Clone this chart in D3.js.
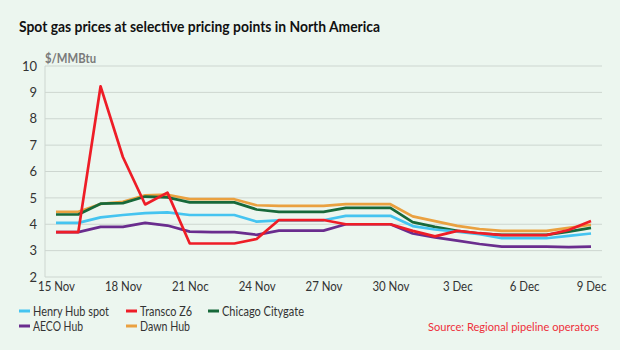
<!DOCTYPE html>
<html>
<head>
<meta charset="utf-8">
<script src="https://cdn.jsdelivr.net/npm/d3@7"></script>
<style>
  html, body { margin: 0; padding: 0; background: #ecf6ef; }
  svg { display: block; font-family: Lato, "Open Sans", sans-serif; }
</style>
</head>
<body>
<svg id="chart" width="620" height="350"></svg>
<script>
// ---- Data ----
const startDate = "2020-11-15";
const dayCount = 25; // 15 Nov .. 9 Dec
const henryHub = [4.05,4.05,4.26,4.35,4.42,4.45,4.35,4.35,4.35,4.10,4.15,4.15,4.15,4.32,4.32,4.32,3.93,3.80,3.72,3.62,3.47,3.47,3.47,3.56,3.65];
const transcoZ6 = [3.70,3.70,9.23,6.55,4.75,5.20,3.27,3.27,3.27,3.44,4.16,4.16,4.16,4.00,4.00,4.00,3.75,3.54,3.75,3.66,3.59,3.59,3.59,3.78,4.12];
const chicagoCitygate = [4.37,4.37,4.78,4.80,5.05,5.02,4.83,4.83,4.83,4.56,4.47,4.47,4.47,4.62,4.62,4.62,4.08,3.90,3.75,3.65,3.60,3.60,3.60,3.72,3.86];
const aecoHub = [3.70,3.70,3.90,3.90,4.05,3.95,3.72,3.70,3.70,3.60,3.76,3.76,3.76,4.00,4.00,4.00,3.65,3.50,3.38,3.25,3.15,3.15,3.15,3.13,3.15];
const dawnHub = [4.47,4.47,4.77,4.85,5.10,5.12,4.95,4.95,4.95,4.72,4.70,4.70,4.70,4.76,4.76,4.76,4.30,4.12,3.94,3.82,3.75,3.75,3.75,3.86,3.98];
const seriesNames = ["Henry Hub spot","Transco Z6","Chicago Citygate","AECO Hub","Dawn Hub"];
const seriesColors = ["#45c4f0","#ee1d27","#17693a","#6a2d8e","#eaa140"];
const yTicks = [2,3,4,5,6,7,8,9,10];
const xTickLabels = ["15 Nov","18 Nov","21 Noc","24 Nov","27 Nov","30 Nov","3 Dec","6 Dec","9 Dec"];
const xTickEvery = 3;

// ---- Build ----
const parse = d3.utcParse("%Y-%m-%d");
const d0 = parse(startDate);
const dates = d3.range(dayCount).map(i => d3.utcDay.offset(d0, i));
const allSeries = [henryHub, transcoZ6, chicagoCitygate, aecoHub, dawnHub];

const svg = d3.select("#chart");
const x = d3.scaleUtc().domain([dates[0], dates[dates.length-1]]).range([56, 591]);
const y = d3.scaleLinear().domain([2, 10]).range([277, 66]);
const gridLeft = 45, gridRight = 602;

// condense text to the narrower width of the original typeface
function squeeze(sel, target) {
  const w = sel.node().getComputedTextLength();
  if (w > target) sel.attr("textLength", target).attr("lengthAdjust", "spacingAndGlyphs");
}
function fitSize(sel, target) {
  const w = sel.node().getComputedTextLength();
  const fs = parseFloat(sel.attr("font-size"));
  sel.attr("font-size", (fs * target / w).toFixed(2));
}

// gridlines
svg.append("g").selectAll("line").data(yTicks).join("line")
  .attr("x1", gridLeft).attr("x2", gridRight)
  .attr("y1", d => y(d)).attr("y2", d => y(d))
  .attr("stroke", "#cdd6d0").attr("stroke-width", 1);
svg.append("line").attr("x1", gridLeft).attr("x2", gridLeft)
  .attr("y1", y(10)).attr("y2", y(2)).attr("stroke", "#cdd6d0");

// y axis
const yAxis = d3.axisLeft(y).tickValues(yTicks).tickSize(0).tickPadding(0);
const yg = svg.append("g").attr("transform", "translate(37,0)").call(yAxis);
yg.select(".domain").remove();
yg.selectAll("text").attr("font-size", 13).attr("fill", "#333").attr("font-family", "Lato, sans-serif");

// x axis
const tickDates = dates.filter((d, i) => i % xTickEvery === 0);
const xAxis = d3.axisBottom(x).tickValues(tickDates).tickSize(0).tickPadding(0)
  .tickFormat((d, i) => xTickLabels[i]);
const xg = svg.append("g").attr("transform", "translate(0,282)").call(xAxis);
xg.select(".domain").remove();
xg.selectAll("text").attr("font-size", 13).attr("fill", "#333").attr("font-family", "Lato, sans-serif")
  .each(function() { const s = d3.select(this); squeeze(s, this.getComputedTextLength() * 0.88); });

// lines
const line = d3.line().x((d, i) => x(dates[i])).y(d => y(d));
const drawOrder = [4, 3, 2, 0, 1];
drawOrder.forEach(k => {
  svg.append("path").datum(allSeries[k])
    .attr("fill", "none").attr("stroke", seriesColors[k])
    .attr("stroke-width", 2.7).attr("stroke-linejoin", "round")
    .attr("d", line);
});

// title
const title = svg.append("text").attr("x", 19).attr("y", 32)
  .attr("font-size", 15.5).attr("font-weight", "bold").attr("fill", "#111")
  .text("Spot gas prices at selective pricing points in North America");
squeeze(title, 361);

const unit = svg.append("text").attr("x", 45).attr("y", 63)
  .attr("font-size", 12.5).attr("font-weight", "bold").attr("fill", "#7a7a7a")
  .text("$/MMBtu");
squeeze(unit, 51);

// legend
const legendPos = [[19,311],[126,311],[208,311],[19,326],[126,326]];
const legendWidths = [76, 52, 82, 50, 50];
seriesNames.forEach((name, k) => {
  const [lx, ly] = legendPos[k];
  svg.append("line").attr("x1", lx).attr("x2", lx + 11).attr("y1", ly).attr("y2", ly)
    .attr("stroke", seriesColors[k]).attr("stroke-width", 3);
  const t = svg.append("text").attr("x", lx + 14).attr("y", ly + 4.5)
    .attr("font-size", 13.5).attr("fill", "#333").text(name);
  squeeze(t, legendWidths[k]);
});

const src = svg.append("text").attr("x", 428).attr("y", 330.5)
  .attr("font-size", 13).attr("fill", "#ee2f3a")
  .text("Source: Regional pipeline operators");
fitSize(src, 171);
</script>
</body>
</html>
